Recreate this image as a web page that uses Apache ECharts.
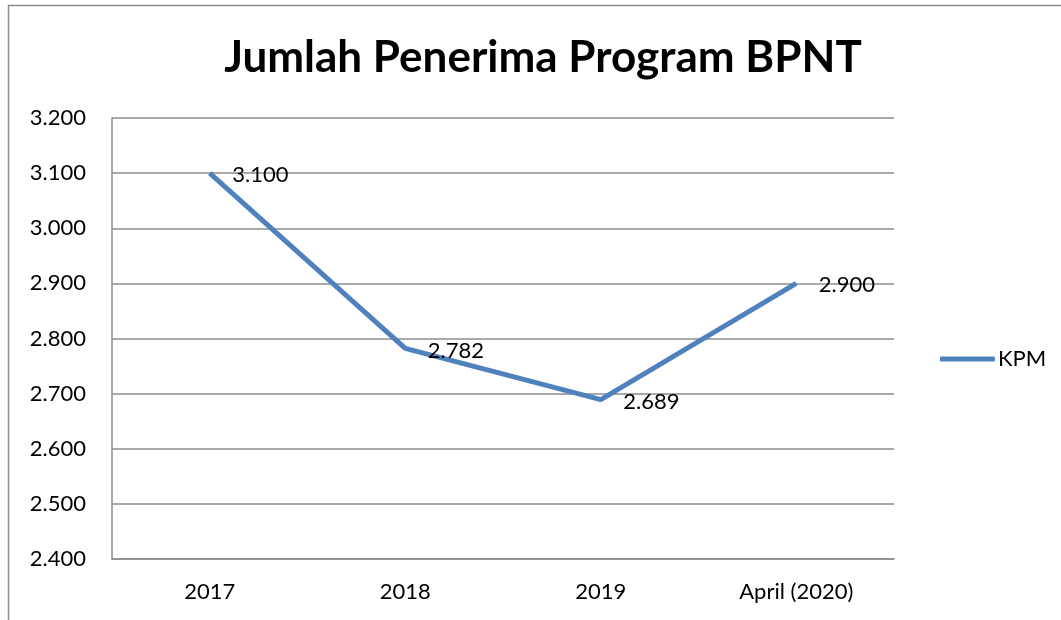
<!DOCTYPE html>
<html>
<head>
<meta charset="utf-8">
<script src="https://cdn.jsdelivr.net/npm/echarts@6/dist/echarts.min.js"></script>
<style>html,body{margin:0;padding:0;background:#fff}#c{width:1061px;height:620px}</style>
</head>
<body>
<div id="c"></div>
<script>
const categories = ['2017', '2018', '2019', 'April (2020)'];
const kpmValues = [3100, 2782, 2689, 2900];
const seriesName = 'KPM';
const titleText = 'Jumlah Penerima Program BPNT';

function fmt(v) {
  const s = String(Math.round(v));
  return s.replace(/\B(?=(\d{3})+(?!\d))/g, '.');
}

const FONT = 'Lato, "Open Sans", sans-serif';
const chart = echarts.init(document.getElementById('c'));
chart.setOption({
  animation: false,
  textStyle: { fontFamily: FONT },
  title: {
    text: titleText,
    left: 538, top: 31, textAlign: 'center',
    textStyle: { fontSize: 44, fontWeight: 'bold', color: '#000', fontFamily: FONT }
  },
  graphic: [{
    type: 'rect', shape: { x: 8.5, y: 5.5, width: 1200, height: 800 },
    style: { fill: 'none', stroke: '#8c8c8c', lineWidth: 1.5 }, silent: true
  }],
  legend: {
    data: [seriesName],
    left: 935, top: 343,
    itemWidth: 55, itemHeight: 5, itemGap: 0,
    icon: 'roundRect',
    itemStyle: { color: '#4f81bd', opacity: 1, borderWidth: 0 },
    textStyle: { fontSize: 22, color: '#000', fontFamily: FONT, padding: [0, 0, 0, -2] }
  },
  grid: { left: 112, right: 167, top: 118, bottom: 61 },
  xAxis: {
    type: 'category', data: categories, boundaryGap: true,
    axisLine: { lineStyle: { color: '#8c8c8c', width: 1.5 } },
    axisTick: { show: false },
    axisLabel: { fontSize: 22, color: '#000', margin: 22, fontFamily: FONT }
  },
  yAxis: {
    type: 'value', min: 2400, max: 3200, interval: 100,
    axisLine: { show: true, lineStyle: { color: '#8c8c8c', width: 1.5 } },
    axisTick: { show: false },
    splitLine: { lineStyle: { color: '#8c8c8c', width: 1.5 } },
    axisLabel: { fontSize: 22, color: '#000', margin: 26, formatter: fmt, fontFamily: FONT }
  },
  series: [{
    name: seriesName, type: 'line', data: kpmValues,
    symbol: 'circle', symbolSize: 1, showSymbol: true,
    lineStyle: { color: '#4f81bd', width: 5 },
    itemStyle: { color: 'rgba(79,129,189,0)', borderWidth: 0 },
    label: {
      show: true, position: 'right', distance: 0, offset: [22, 2],
      formatter: p => fmt(p.value),
      fontSize: 22, color: '#000', fontFamily: FONT
    }
  }]
});
</script>
</body>
</html>
